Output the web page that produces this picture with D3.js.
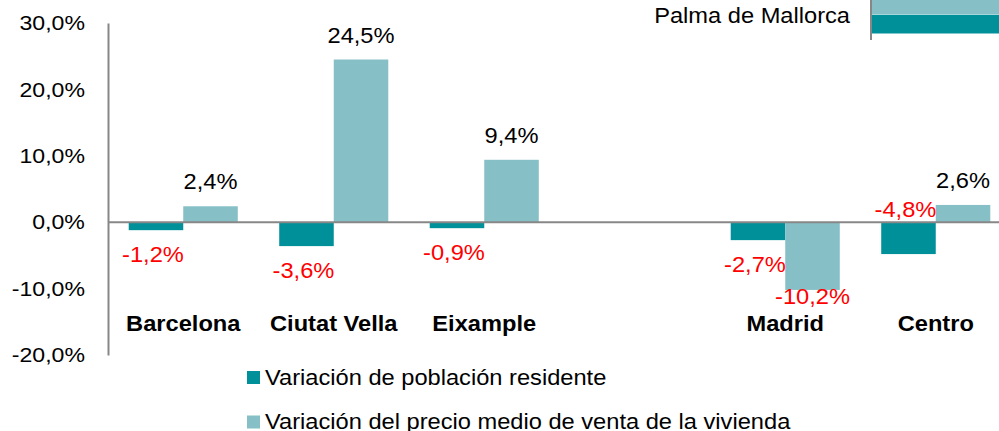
<!DOCTYPE html>
<html>
<head>
<meta charset="utf-8">
<script src="https://cdn.jsdelivr.net/npm/d3@7.9.0/dist/d3.min.js"></script>
<style>
  html, body { margin: 0; padding: 0; background: #fff; }
  svg { display: block; font-family: "Liberation Sans", Arial, sans-serif; }
</style>
</head>
<body>
<svg id="chart" width="999" height="431"></svg>
<script>
// data
const categories = ["Barcelona", "Ciutat Vella", "Eixample", "", "Madrid", "Centro"];
const poblacion = [-1.2, -3.6, -0.9, null, -2.7, -4.8];
const precio = [2.4, 24.5, 9.4, null, -10.2, 2.6];
const yTicks = [30, 20, 10, 0, -10, -20];
const seriesNames = ["Variación de población residente", "Variación del precio medio de venta de la vivienda"];
// where the red population label sits: below the bar, or just above the zero line
const poblacionLabelSide = ["out", "out", "out", null, "out", "base"];
// cropped piece of a neighbouring chart, top right (bars run past the edge)
const palmaLabel = "Palma de Mallorca";
const palmaValues = [30, 30]; // precio, poblacion (values not visible)

const darkColor = "#00909A";
const lightColor = "#86BFC6";
const axisColor = "#878787";
const SX = 1.1; // text in the picture is slightly stretched sideways

const svg = d3.select("#chart");
const fmt = v => v.toFixed(1).replace(".", ",") + "%";

const x0 = d3.scaleBand().domain(categories).range([108, 1011]);
const x1 = d3.scaleBand().domain(["poblacion", "precio"])
    .range([0, x0.bandwidth()]).paddingOuter(0.38);
const y = d3.scaleLinear().domain([-20, 30]).range([355, 23]);

function addText(g, x, yy, txt, opts) {
    return g.append("text")
        .attr("transform", `translate(${x},${yy}) scale(${SX},1)`)
        .attr("text-anchor", opts.anchor || "middle")
        .attr("font-size", opts.size || 21.5)
        .attr("font-weight", opts.weight || "normal")
        .attr("fill", opts.fill || "#000")
        .text(txt);
}

// y axis
const yAxis = svg.append("g")
    .attr("transform", "translate(108,0)")
    .call(d3.axisLeft(y).tickValues(yTicks).tickSize(0).tickPadding(21).tickFormat(fmt));
yAxis.select(".domain").attr("stroke", axisColor).attr("stroke-width", 2);
yAxis.selectAll(".tick text")
    .attr("font-size", 21)
    .attr("font-family", "'Liberation Sans', Arial, sans-serif")
    .attr("fill", "#000")
    .attr("transform", `scale(${SX},1)`);

// bars
const rows = categories.map((c, i) => ({ cat: c, poblacion: poblacion[i], precio: precio[i], side: poblacionLabelSide[i] }));

["poblacion", "precio"].forEach(key => {
    svg.append("g").selectAll("rect")
        .data(rows.filter(d => d[key] !== null))
        .join("rect")
        .attr("x", d => x0(d.cat) + x1(key))
        .attr("width", x1.bandwidth())
        .attr("y", d => y(Math.max(0, d[key])))
        .attr("height", d => Math.abs(y(d[key]) - y(0)))
        .attr("fill", key === "poblacion" ? darkColor : lightColor);
});

// zero line
svg.append("line")
    .attr("x1", 108).attr("x2", 999)
    .attr("y1", y(0)).attr("y2", y(0))
    .attr("stroke", axisColor).attr("stroke-width", 2);

// value labels
const labels = svg.append("g");
rows.forEach(d => {
    if (d.precio !== null) {
        const cx = x0(d.cat) + x1("precio") + x1.bandwidth() / 2;
        if (d.precio >= 0) addText(labels, cx, y(d.precio) - 17, fmt(d.precio), {});
        else addText(labels, cx, y(d.precio) + 14, fmt(d.precio), { fill: "#FF0000" });
    }
    if (d.poblacion !== null) {
        const cx = x0(d.cat) + x1("poblacion") + x1.bandwidth() / 2;
        const ly = d.side === "base" ? y(0) - 5 : y(d.poblacion) + 32;
        addText(labels, cx - 3, ly, fmt(d.poblacion), { fill: "#FF0000" });
    }
});

// category labels
const catG = svg.append("g");
categories.forEach(c => {
    if (c) addText(catG, x0(c) + x0.bandwidth() / 2, 331, c, { weight: "bold" });
});

// legend (second line runs into the bottom edge, as in the source)
const legend = svg.append("g");
seriesNames.forEach((name, i) => {
    const ly = 371 + i * 44.5;
    legend.append("rect")
        .attr("x", 247).attr("y", ly).attr("width", 13).attr("height", 13)
        .attr("fill", i === 0 ? darkColor : lightColor);
    addText(legend, 265, ly + 13.5, name, { anchor: "start" });
});

// cropped neighbouring chart, top right
const py = d3.scaleBand().domain(["precio", "poblacion"]).range([-4.5, 34]);
const px = d3.scaleLinear().domain([0, 30]).range([872, 1200]);
svg.append("g").selectAll("rect")
    .data(["precio", "poblacion"])
    .join("rect")
    .attr("x", px(0))
    .attr("y", d => py(d))
    .attr("width", (d, i) => px(palmaValues[i]) - px(0))
    .attr("height", py.bandwidth() - 0.5)
    .attr("fill", d => d === "poblacion" ? darkColor : lightColor);
svg.append("line")
    .attr("x1", 871).attr("x2", 871).attr("y1", 0).attr("y2", 40)
    .attr("stroke", axisColor).attr("stroke-width", 2);
addText(svg, 850, 23, palmaLabel, { anchor: "end" });
</script>
</body>
</html>
